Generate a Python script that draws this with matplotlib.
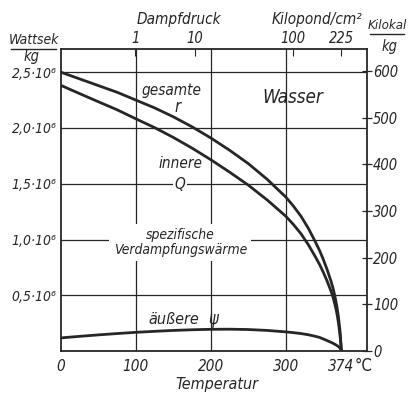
import matplotlib
matplotlib.use("Agg")
import matplotlib.pyplot as plt
from matplotlib.lines import Line2D

# ---- data ----
temp = [0, 25, 50, 75, 100, 125, 150, 175, 200, 225, 250, 275, 300, 310, 320, 330,
        340, 345, 350, 355, 360, 363, 366, 368, 370, 372, 373, 374]
r_total = [2.50, 2.44, 2.38, 2.32, 2.25, 2.18, 2.10, 2.01, 1.91, 1.80, 1.68, 1.54,
           1.38, 1.30, 1.21, 1.10, 0.97, 0.90, 0.82, 0.73, 0.63, 0.56, 0.47, 0.40,
           0.31, 0.19, 0.11, 0.0]
q_inner = [2.382, 2.308, 2.235, 2.163, 2.082, 2.003, 1.915, 1.819, 1.715, 1.604,
           1.487, 1.355, 1.208, 1.135, 1.053, 0.953, 0.837, 0.775, 0.705, 0.627,
           0.54, 0.48, 0.40, 0.338, 0.258, 0.152, 0.083, 0.0]
psi_outer = [0.118, 0.132, 0.145, 0.157, 0.168, 0.177, 0.185, 0.191, 0.195, 0.196,
             0.193, 0.185, 0.172, 0.165, 0.157, 0.146, 0.131, 0.122, 0.108, 0.094,
             0.079, 0.069, 0.058, 0.050, 0.040, 0.028, 0.018, 0.0]

x_ticks = [0, 100, 200, 300, 374]
x_ticklabels = ["0", "100", "200", "300", "374"]
y_ticks = [0.5, 1.0, 1.5, 2.0, 2.5]          # 10^6 Ws/kg
y_ticklabels = ["0,5·10⁶", "1,0·10⁶", "1,5·10⁶", "2,0·10⁶", "2,5·10⁶"]
kcal_ticks = [0, 100, 200, 300, 400, 500, 600]
press_temps = [99.1, 179.0, 309.5, 374.0]    # saturation temperature for given pressure
press_labels = ["1", "10", "100", "225"]

C = "#262626"
plt.rcParams["font.family"] = ["DejaVu Sans"]
plt.rcParams["font.style"] = "oblique"
plt.rcParams["font.stretch"] = "condensed"

fig = plt.figure(figsize=(4.09, 3.94), dpi=100)
ax = fig.add_axes([0.149, 0.109, 0.748, 0.766])
xmax = 408
ymax = 2.706
ax.set_xlim(0, xmax)
ax.set_ylim(0, ymax)

# grid
for gx in [100, 200, 300]:
    ax.axvline(gx, color=C, lw=0.9, zorder=1)
for gy in y_ticks:
    ax.axhline(gy, color=C, lw=0.9, zorder=1)

for series in (r_total, q_inner, psi_outer):
    ax.plot(temp, series, color=C, lw=2.0, zorder=3,
            solid_capstyle="round", solid_joinstyle="round")

for s in ax.spines.values():
    s.set_linewidth(1.3)
    s.set_color(C)

ax.set_xticks(x_ticks)
ax.set_xticklabels(x_ticklabels)
ax.set_yticks(y_ticks)
ax.set_yticklabels(y_ticklabels)
ax.tick_params(axis="y", length=0, labelsize=10, colors=C, pad=3)
ax.tick_params(axis="x", length=0, labelsize=11, colors=C, pad=6)
ax.text(391, -0.05, "°C", fontsize=12, va="top", ha="left", color=C, style="normal")

# right axis: kcal/kg
axr = ax.twinx()
axr.set_ylim(0, ymax * 1e6 / 4186.8)
axr.set_yticks(kcal_ticks)
axr.tick_params(axis="y", direction="inout", length=7, width=0.9, labelsize=10.5,
                colors=C, pad=1)
for s in axr.spines.values():
    s.set_visible(False)

# top axis: pressure
axt = ax.twiny()
axt.set_xlim(0, xmax)
axt.set_xticks(press_temps)
axt.set_xticklabels(press_labels)
axt.tick_params(axis="x", direction="in", length=5, width=0.8, labelsize=10.5,
                colors=C, pad=2)
for s in axt.spines.values():
    s.set_visible(False)

# labels
fig.text(0.438, 0.950, "Dampfdruck", fontsize=11, ha="center", va="center", color=C)
fig.text(0.775, 0.950, "Kilopond/cm²", fontsize=11, ha="center", va="center", color=C)
fig.text(0.531, 0.024, "Temperatur", fontsize=11.5, ha="center", va="center", color=C)

fig.text(0.082, 0.898, "Wattsek", fontsize=10, ha="center", va="center", color=C)
fig.add_artist(Line2D([0.027, 0.138], [0.876, 0.876], color=C, lw=1.0))
fig.text(0.078, 0.856, "kg", fontsize=10.5, ha="center", va="center", color=C)

fig.text(0.946, 0.935, "Kilokal", fontsize=9.5, ha="center", va="center", color=C)
fig.add_artist(Line2D([0.905, 0.988], [0.913, 0.913], color=C, lw=1.0))
fig.text(0.953, 0.882, "kg", fontsize=10.5, ha="center", va="center", color=C)

# in-plot annotations
wb = dict(facecolor="white", edgecolor="none", pad=1.0)
ax.text(147, 2.34, "gesamte", fontsize=11, ha="center", va="center", color=C)
ax.text(156, 2.19, "r", fontsize=12, ha="center", va="center", color=C)
ax.text(309, 2.27, "Wasser", fontsize=13.5, ha="center", va="center", color=C)
ax.text(160, 1.685, "innere", fontsize=11, ha="center", va="center", color=C)
ax.text(159, 1.49, "Q", fontsize=11, ha="center", va="center", color=C, bbox=wb)
ax.text(159, 0.975, "spezifische\nVerdampfungswärme", fontsize=10, ha="center",
        va="center", color=C, linespacing=1.1,
        bbox=dict(facecolor="white", edgecolor="none", pad=3))
ax.text(150, 0.285, "äußere", fontsize=11.5, ha="center", va="center", color=C)
ax.text(203, 0.285, "ψ", fontsize=12, ha="center", va="center", color=C)

fig.savefig("out.png", dpi=100, facecolor="white")
